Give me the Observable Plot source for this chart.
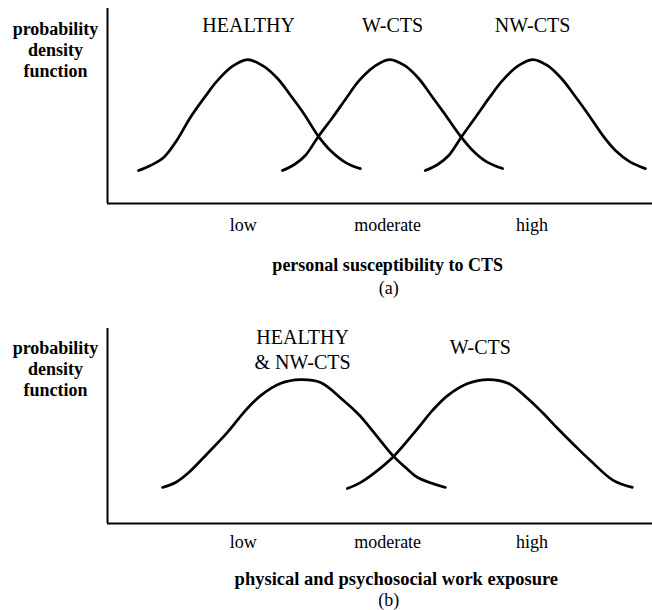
<!DOCTYPE html>
<html>
<head>
<meta charset="utf-8">
<script src="https://cdn.jsdelivr.net/npm/d3@7"></script>
<script src="https://cdn.jsdelivr.net/npm/@observablehq/plot@0.6"></script>
<style>
  body { margin: 0; background: #fff; }
  #chart { width: 652px; }
  #chart svg { display: block; }
</style>
</head>
<body>
<div id="chart"></div>
<script>
// ---------- data (arbitrary units: x 0–100, y 0–100) ----------
const tickValues = [24.9, 51.4, 77.9];
const tickLabels = ["low", "moderate", "high"];

// Panel (a): personal susceptibility to CTS
const aHealthyX = [5.7, 7.9, 10.3, 12.7, 15.2, 17.8, 20.2, 22.9, 25.7, 28.4, 31.2, 33.6, 36.0, 38.7, 40.9, 43.7, 46.4];
const aHealthyY = [16.9, 19.5, 23.6, 32.3, 44.1, 54.4, 63.1, 70.3, 73.8, 70.8, 64.1, 55.4, 46.2, 34.4, 27.2, 21.0, 17.9];
const aWctsX = [32.1, 34.3, 36.3, 38.7, 41.3, 43.9, 46.2, 49.0, 51.7, 54.5, 57.1, 59.4, 61.8, 64.8, 67.0, 69.5, 72.5];
const aWctsY = [16.9, 20.0, 24.6, 34.4, 44.1, 54.4, 63.1, 70.3, 73.8, 70.8, 64.1, 55.4, 46.2, 34.4, 27.2, 21.5, 17.9];
const aNwctsX = [58.3, 60.6, 62.6, 65.0, 67.5, 70.1, 72.5, 75.2, 78.0, 80.7, 83.3, 85.7, 88.1, 91.0, 93.2, 95.8, 98.7];
const aNwctsY = [16.9, 20.0, 24.6, 34.4, 44.1, 54.4, 63.1, 70.3, 73.8, 70.8, 64.1, 55.4, 46.2, 34.4, 27.2, 21.5, 17.9];
const aLabels = ["HEALTHY", "W-CTS", "NW-CTS"];
const aLabelX = [25.9, 52.3, 78.0];

// Panel (b): physical and psychosocial work exposure
const bLeftX = [10.1, 12.5, 14.7, 18.0, 22.0, 25.3, 28.1, 31.7, 35.4, 39.1, 43.3, 46.1, 48.3, 52.5, 54.7, 56.9, 62.0];
const bLeftY = [18.5, 21.0, 25.6, 34.9, 46.7, 57.9, 65.6, 71.8, 73.8, 72.3, 63.1, 55.9, 48.7, 34.4, 28.7, 23.6, 18.5];
const bRightX = [44.0, 46.4, 48.8, 52.5, 56.9, 59.6, 62.4, 66.1, 69.9, 73.6, 77.1, 79.8, 82.6, 85.9, 88.6, 92.8, 96.3];
const bRightY = [17.9, 21.0, 25.6, 34.4, 48.7, 57.9, 65.6, 71.8, 73.8, 71.8, 64.1, 56.9, 48.7, 39.5, 32.3, 22.1, 18.5];
const bLabels = ["HEALTHY\n& NW-CTS", "W-CTS"];
const bLabelX = [35.8, 68.4];

const yLabel = "probability\ndensity\nfunction";
const titles = ["personal susceptibility to CTS", "physical and psychosocial work exposure"];
const tags = ["(a)", "(b)"];
const titleXs = [51.4, 53.0];
const tagXs = [51.6, 51.6];

// ---------- helpers ----------
function pts(xs, ys, name) { return xs.map((x, i) => ({x, y: ys[i], name})); }
const tickMap = new Map(tickValues.map((v, i) => [v, tickLabels[i]]));
const SERIF = "'Liberation Serif', 'Times New Roman', Times, serif";

function panel(o) {
  return Plot.plot({
    width: 652,
    height: o.height,
    marginLeft: 107,
    marginRight: 0,
    marginTop: o.marginTop,
    marginBottom: o.marginBottom,
    x: {domain: [0, 100], label: null},
    y: {domain: [0, 100], axis: null, label: null},
    style: {fontFamily: SERIF, fontSize: "18px", color: "black", background: "white", overflow: "visible"},
    marks: [
      Plot.ruleX([0], {stroke: "black", strokeWidth: 2}),
      Plot.ruleY([0], {stroke: "black", strokeWidth: 2}),
      Plot.line(o.curves, {x: "x", y: "y", z: "name", stroke: "black", strokeWidth: 2.7, curve: "catmull-rom"}),
      Plot.axisX(tickValues, {tickFormat: d => tickMap.get(d), tickSize: 0, tickPadding: o.tickPadding, label: null, fontSize: 18, fill: "black"}),
      Plot.text([yLabel], {frameAnchor: "top-left", dx: -52, dy: o.yLabelDy, lineAnchor: "bottom", lineHeight: 1.14, textAnchor: "middle", fontWeight: "bold", fontSize: 18, fill: "black"}),
      ...o.labelMarks,
      Plot.text([{x: o.titleX, t: o.title}], {x: "x", text: "t", frameAnchor: "bottom", dy: o.titleDy, lineAnchor: "bottom", fontWeight: "bold", fontSize: o.titleSize, fill: "black"}),
      Plot.text([{x: o.tagX, t: o.tag}], {x: "x", text: "t", frameAnchor: "bottom", dy: o.tagDy, lineAnchor: "bottom", fontSize: 18, fill: "black"})
    ]
  });
}

const chartA = panel({
  height: 310, marginTop: 8, marginBottom: 107,
  curves: [...pts(aHealthyX, aHealthyY, "HEALTHY"), ...pts(aWctsX, aWctsY, "W-CTS"), ...pts(aNwctsX, aNwctsY, "NW-CTS")],
  tickPadding: 15, yLabelDy: 68,
  labelMarks: [
    Plot.text(aLabels.map((l, i) => ({x: aLabelX[i], l})), {x: "x", text: "l", frameAnchor: "top", dy: 23, lineAnchor: "bottom", fontSize: 20, fill: "black"})
  ],
  title: titles[0], titleX: titleXs[0], titleSize: 18, titleDy: 67,
  tag: tags[0], tagX: tagXs[0], tagDy: 90
});

const chartB = panel({
  height: 300, marginTop: 18, marginBottom: 87,
  curves: [...pts(bLeftX, bLeftY, "HEALTHY & NW-CTS"), ...pts(bRightX, bRightY, "W-CTS")],
  tickPadding: 12, yLabelDy: 67,
  labelMarks: [
    Plot.text([{x: bLabelX[0], l: bLabels[0]}], {x: "x", text: "l", frameAnchor: "top", dy: 40, lineAnchor: "bottom", lineHeight: 1.25, fontSize: 20, fill: "black"}),
    Plot.text([{x: bLabelX[1], l: bLabels[1]}], {x: "x", text: "l", frameAnchor: "top", dy: 25, lineAnchor: "bottom", fontSize: 20, fill: "black"})
  ],
  title: titles[1], titleX: titleXs[1], titleSize: 18.5, titleDy: 61,
  tag: tags[1], tagX: tagXs[1], tagDy: 82
});

document.getElementById("chart").append(chartA, chartB);
</script>
</body>
</html>
